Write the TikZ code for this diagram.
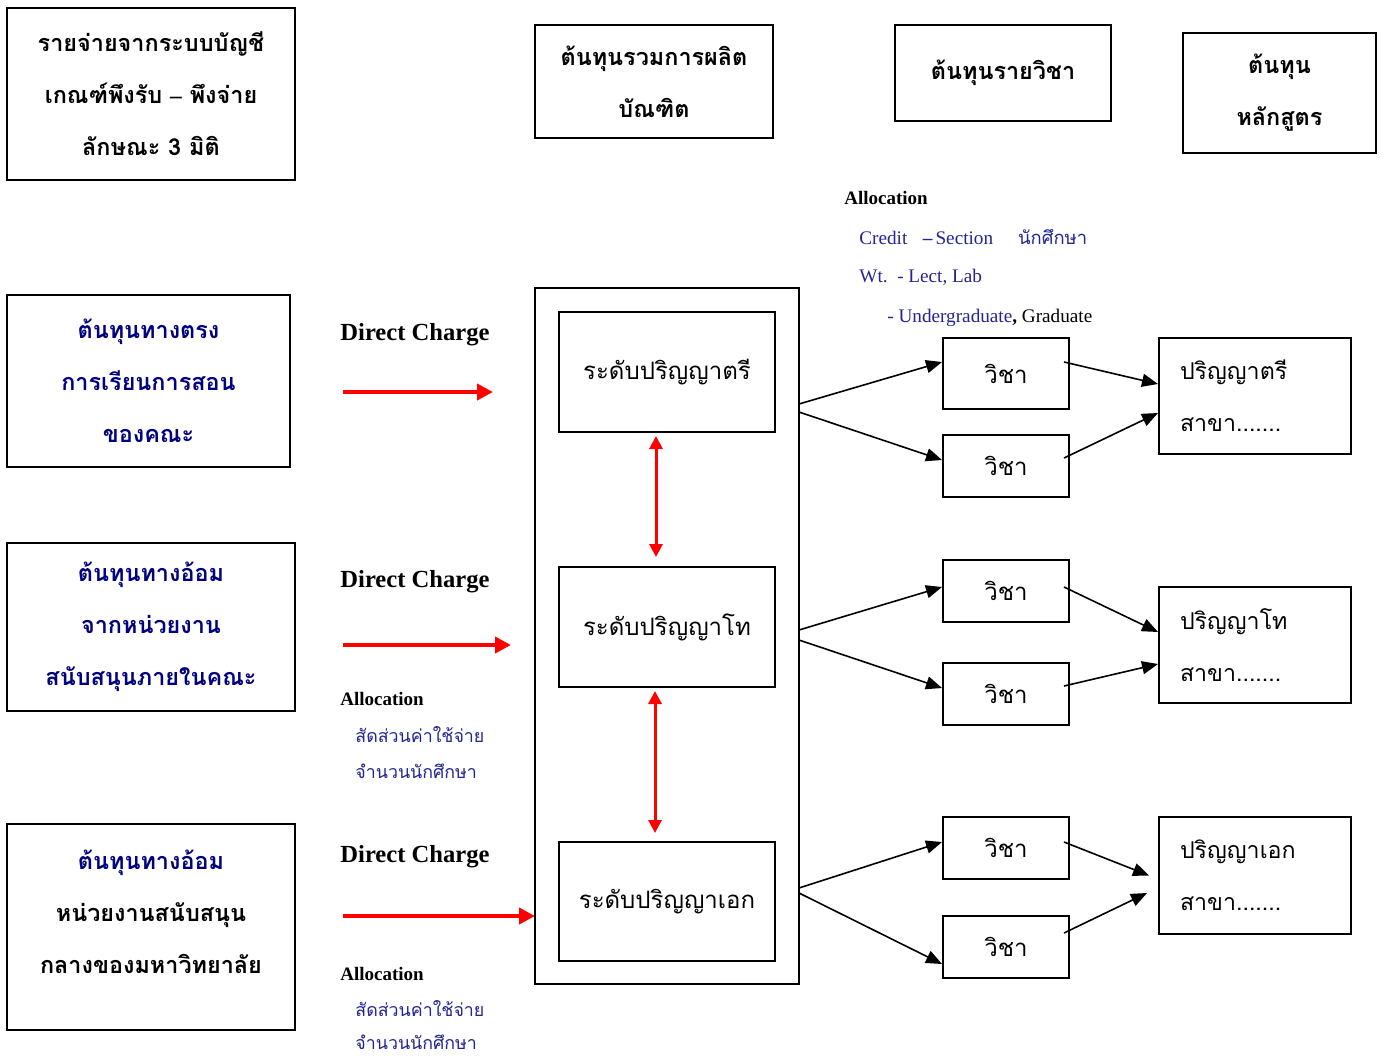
\documentclass[tikz,border=0pt]{standalone}
\usepackage{fontspec}
\setmainfont{Liberation Serif}
\newfontfamily\thai[Script=Thai]{Loma}
\usetikzlibrary{arrows.meta,positioning}
\definecolor{navy}{RGB}{0,0,128}
\definecolor{allocblue}{RGB}{35,35,150}
\definecolor{charge}{RGB}{255,0,0}

\begin{document}
\begin{tikzpicture}[x = .5pt, y = -.5pt,
    box/.style = {draw, line width = 1pt, inner sep = 0pt},
    headtxt/.style = {font = \thai\bfseries\fontsize{11.7}{26}\selectfont, align = center},
    leveltxt/.style = {font = \thai\fontsize{12}{26}\selectfont, align = center},
    degtxt/.style = {font = \thai\fontsize{11.6}{26}\selectfont, align = left, text width = 75pt, inner xsep = 10.5pt},
    dcharge/.style = {font = \bfseries\fontsize{12.3}{14}\selectfont, anchor = west, inner sep = 0pt},
    alloc/.style = {font = \bfseries\fontsize{9.5}{11}\selectfont, anchor = west, inner sep = 0pt},
    note/.style = {font = \fontsize{9.6}{11}\selectfont, text = allocblue, anchor = west, inner sep = 0pt},
    thainote/.style = {note, font = \thai\fontsize{8.9}{11}\selectfont},
    flow/.style = {-{Triangle[length = 8pt, width = 6.5pt]}, line width = .8pt},
    redflow/.style = {-{Triangle[length = 8pt, width = 8pt]}, charge, line width = 2pt},
    link/.style = {{Triangle[length = 6.5pt, width = 6.5pt]}-{Triangle[length = 6.5pt, width = 6.5pt]}, charge, line width = 1.5pt}]
    \useasboundingbox (0,0) rectangle (1382,1056);

    % top row
    \node[box, headtxt, minimum width = 144pt, minimum height = 86pt] (books) at (151,94) {รายจ่ายจากระบบบัญชี\\เกณฑ์พึงรับ {\rmfamily\bfseries –} พึงจ่าย\\ลักษณะ 3 มิติ};
    \node[box, headtxt, minimum width = 119pt, minimum height = 56.5pt] (total) at (654,81.5) {ต้นทุนรวมการผลิต\\บัณฑิต};
    \node[box, headtxt, minimum width = 108pt, minimum height = 48pt] (course) at (1003,73) {ต้นทุนรายวิชา};
    \node[box, headtxt, minimum width = 96.5pt, minimum height = 60pt] (program) at (1279.5,93) {ต้นทุน\\หลักสูตร};

    % cost sources
    \node[box, headtxt, text = navy, minimum width = 141.5pt, minimum height = 86pt] (direct) at (148.5,381) {ต้นทุนทางตรง\\การเรียนการสอน\\ของคณะ};
    \node[box, headtxt, text = navy, minimum width = 144pt, minimum height = 84pt] (indfac) at (151,627) {ต้นทุนทางอ้อม\\จากหน่วยงาน\\สนับสนุนภายในคณะ};
    \node[box, minimum width = 144pt, minimum height = 103pt] (induni) at (151,927) {};
    \node[headtxt] at ([yshift = 7.5pt]induni.center) {\textcolor{navy}{ต้นทุนทางอ้อม}\\หน่วยงานสนับสนุน\\กลางของมหาวิทยาลัย};

    % degree levels
    \node[box, minimum width = 132pt, minimum height = 348pt] (levels) at (667,636) {};
    \node[box, leveltxt, minimum width = 108pt, minimum height = 60pt] (bach) at (667,372) {ระดับปริญญาตรี};
    \node[box, leveltxt, minimum width = 108pt, minimum height = 60pt] (mast) at (667,627) {ระดับปริญญาโท};
    \node[box, leveltxt, minimum width = 108pt, minimum height = 59.5pt] (doct) at (667,901.5) {ระดับปริญญาเอก};

    % subjects
    \node[box, leveltxt, minimum width = 63pt, minimum height = 35.5pt] (subA) at (1006,373.5) {วิชา};
    \node[box, leveltxt, minimum width = 63pt, minimum height = 31pt] (subB) at (1006,466) {วิชา};
    \node[box, leveltxt, minimum width = 63pt, minimum height = 31pt] (subC) at (1006,591) {วิชา};
    \node[box, leveltxt, minimum width = 63pt, minimum height = 31pt] (subD) at (1006,694) {วิชา};
    \node[box, leveltxt, minimum width = 63pt, minimum height = 31pt] (subE) at (1006,848) {วิชา};
    \node[box, leveltxt, minimum width = 63pt, minimum height = 31pt] (subF) at (1006,947) {วิชา};

    % programs
    \node[box, degtxt, minimum width = 96pt, minimum height = 58pt] (progB) at (1255,396) {ปริญญาตรี\\สาขา.......};
    \node[box, degtxt, minimum width = 96pt, minimum height = 58pt] (progM) at (1255,645) {ปริญญาโท\\สาขา.......};
    \node[box, degtxt, minimum width = 96pt, minimum height = 58.5pt] (progD) at (1255,875.5) {ปริญญาเอก\\สาขา.......};

    % labels
    \node[dcharge] (dcA) at (340,335) {Direct Charge};
    \node[dcharge] (dcB) at (340,582) {Direct Charge};
    \node[dcharge] (dcC) at (340,857) {Direct Charge};
    \node[alloc] (alTop) at (844,198) {Allocation};
    \node[note] (crd) at (859,237) {Credit\hspace{.8em}{\bfseries –}\,Section\hspace{1.3em}{\thai\fontsize{9.2}{11}\selectfont นักศึกษา}};
    \node[note] (wt) at (859,277) {Wt.\ \ - Lect, Lab};
    \node[note] (grad) at (887,318) {- Undergraduate\textcolor{black}{\textbf{,} Graduate}};
    \node[alloc] (alB) at (340,699) {Allocation};
    \node[thainote] (exB) at (355,735) {สัดส่วนค่าใช้จ่าย};
    \node[thainote] (stB) at (355,771) {จำนวนนักศึกษา};
    \node[alloc] (alC) at (340,974) {Allocation};
    \node[thainote] (exC) at (355,1009) {สัดส่วนค่าใช้จ่าย};
    \node[thainote] (stC) at (355,1042) {จำนวนนักศึกษา};

    % red charges
    \coordinate (fromA) at (343,392);
    \coordinate (toA) at (493,392);
    \coordinate (fromB) at (343,645);
    \coordinate (toB) at (511,645);
    \coordinate (fromC) at (343,916);
    \coordinate (toC) at (535,916);
    \draw[redflow] (fromA) -- (toA);
    \draw[redflow] (fromB) -- (toB);
    \draw[redflow] (fromC) -- (toC);
    \draw[link] ([xshift = -5.5pt, yshift = -1.5pt]bach.south) -- ([xshift = -5.5pt, yshift = 4.5pt]mast.north);
    \draw[link] ([xshift = -6pt, yshift = -1.5pt]mast.south) -- ([xshift = -6pt, yshift = 4pt]doct.north);

    % level -> subject
    \coordinate (outA) at (799,404);
    \coordinate (outB) at (799,412);
    \coordinate (outC) at (799,630);
    \coordinate (outD) at (799,640);
    \coordinate (outE) at (799,888);
    \coordinate (outF) at (799,893);
    \draw[flow] (outA) -- ([yshift = 5.75pt]subA.west);
    \draw[flow] (outB) -- ([yshift = 3pt]subB.west);
    \draw[flow] (outC) -- ([yshift = 2pt]subC.west);
    \draw[flow] (outD) -- ([yshift = 3pt]subD.west);
    \draw[flow] (outE) -- ([yshift = 3pt]subE.west);
    \draw[flow] (outF) -- ([yshift = -8.5pt]subF.west);

    % subject -> program
    \draw[flow] ([xshift = -3pt, yshift = 5.75pt]subA.east) -- ([yshift = 6pt]progB.west);
    \draw[flow] ([xshift = -3pt, yshift = 4pt]subB.east) -- ([yshift = -8.5pt]progB.west);
    \draw[flow] ([xshift = -3pt, yshift = 2pt]subC.east) -- ([yshift = 6.5pt]progM.west);
    \draw[flow] ([xshift = -3pt, yshift = 4pt]subD.east) -- ([yshift = -9.5pt]progM.west);
    \draw[flow] ([xshift = -3pt, yshift = 3pt]subE.east) -- ([xshift = -4.5pt]progD.west);
    \draw[flow] ([xshift = -3pt, yshift = 7pt]subF.east) -- ([xshift = -5.5pt, yshift = -8.75pt]progD.west);
\end{tikzpicture}
\end{document}
